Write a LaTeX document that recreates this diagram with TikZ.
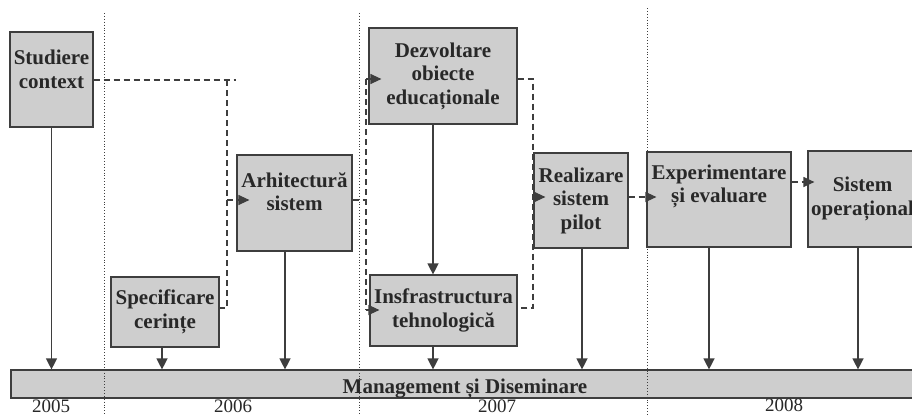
\documentclass[tikz,border=0pt]{standalone}
\usepackage{fontspec}
\setmainfont{Liberation Serif}
\usetikzlibrary{arrows.meta,calc}
\definecolor{boxfill}{RGB}{206,206,206}
\definecolor{ink}{RGB}{62,62,62}
\definecolor{txtc}{RGB}{40,40,40}
\begin{document}
\begin{tikzpicture}[x=1pt,y=-1pt,
  box/.style={draw=ink, line width=1.2pt, fill=boxfill, inner sep=0pt},
  txt/.style={align=center, text=txtc, inner sep=0pt, font=\fontsize{21}{23.5}\selectfont\bfseries},
  year/.style={text=txtc, inner sep=0pt, anchor=base, font=\fontsize{19}{22}\selectfont},
  down/.style={draw=ink, line width=1.3pt, -{Triangle[length=11pt,width=11pt]}},
  dconn/.style={draw=ink, line width=1.2pt, dash pattern=on 6pt off 4pt},
  darr/.style={dconn, -{Triangle[length=11pt,width=10pt]}},
  guide/.style={draw=ink, line width=0.9pt, dotted}
]
\clip (0,0) rectangle (912,416);
\fill[white] (0,0) rectangle (912,416);

% bar
\node[box, minimum width=919pt, minimum height=28pt] (bar) at (470.5,384) {};

% dotted year separators
\coordinate (g1a) at (104,13); \coordinate (g1b) at (104,416);
\coordinate (g2a) at (359,13); \coordinate (g2b) at (359,416);
\coordinate (g3a) at (647,8);  \coordinate (g3b) at (647,416);
\draw[guide] (g1a) -- (g1b);
\draw[guide] (g2a) -- (g2b);
\draw[guide] (g3a) -- (g3b);

% boxes
\node[box, minimum width=83pt,  minimum height=95pt] (stud) at (51.5,79.5) {};
\node[box, minimum width=108pt, minimum height=70pt] (spec) at (165,312) {};
\node[box, minimum width=115pt, minimum height=96pt] (arch) at (294.5,203) {};
\node[box, minimum width=148pt, minimum height=96pt] (dezv) at (443,76) {};
\node[box, minimum width=147pt, minimum height=71pt] (infr) at (443.5,310.5) {};
\node[box, minimum width=94pt,  minimum height=95pt] (real) at (581,200.5) {};
\node[box, minimum width=144pt, minimum height=95pt] (expe) at (719,199.5) {};
\node[box, minimum width=110pt, minimum height=96pt] (sist) at (863,199) {};

% texts
\node[txt, yshift=10pt] (tstud) at (stud) {Studiere\\context};
\node[txt] (tspec) at (spec) {Specificare\\cerințe};
\node[txt, yshift=11.5pt] (tarch) at (arch) {Arhitectură\\sistem};
\node[txt] (tdezv) at (dezv) {Dezvoltare\\obiecte\\educaționale};
\node[txt] (tinfr) at (infr) {Insfrastructura\\tehnologică};
\node[txt] (treal) at (real) {Realizare\\sistem\\pilot};
\node[txt, yshift=13pt] (texpe) at (expe) {Experimentare\\și evaluare};
\node[txt] (tsist) at ([xshift=-0.5pt]sist) {Sistem\\operațional};
\node[txt, anchor=base] (tbar) at (465,393) {Management și Diseminare};

% years
\node[year] (y5) at (51,412) {2005};
\node[year] (y6) at (233,412) {2006};
\node[year] (y7) at (497,412) {2007};
\node[year] (y8) at (784,411) {2008};

% solid arrows to the bar
\draw[down] (stud.south) -- (stud.south |- bar.north);
\draw[down] ([xshift=-3pt]spec.south) -- ([xshift=-3pt]spec.south |- bar.north);
\draw[down] ([xshift=-9.5pt]arch.south) -- ([xshift=-9.5pt]arch.south |- bar.north);
\draw[down] ([xshift=-10pt]dezv.south) -- ([xshift=-10pt]dezv.south |- infr.north);
\draw[down] ([xshift=-10.5pt]infr.south) -- ([xshift=-10.5pt]infr.south |- bar.north);
\draw[down] ([xshift=1pt]real.south) -- ([xshift=1pt]real.south |- bar.north);
\draw[down] ([xshift=-10pt]expe.south) -- ([xshift=-10pt]expe.south |- bar.north);
\draw[down] ([xshift=-5pt]sist.south) -- ([xshift=-5pt]sist.south |- bar.north);

% dashed dependencies
\coordinate (c1) at (227,0);
\coordinate (c2) at (366,0);
\coordinate (c3) at (533,0);

\draw[dconn] ([yshift=-0.5pt]stud.east) -- ([yshift=-0.5pt]stud.east -| arch.west);
\draw[dconn] ([yshift=-0.5pt]stud.east -| c1) -- ([yshift=4pt]spec.east -| c1) -- ([yshift=4pt]spec.east);
\draw[darr, shorten >=-13pt] ([yshift=3pt]arch.west -| c1) -- ([yshift=3pt]arch.west);

\draw[dconn] ([yshift=3pt]arch.east) -- ([yshift=3pt]arch.east -| c2);
\draw[dconn] ([yshift=-3pt]dezv.west -| c2) -- ([yshift=0.5pt]infr.west -| c2);
\draw[darr, shorten >=-13pt] ([yshift=-3pt]dezv.west -| c2) -- ([yshift=-3pt]dezv.west);
\draw[darr, shorten >=-10pt] ([yshift=0.5pt]infr.west -| c2) -- ([yshift=0.5pt]infr.west);

\draw[dconn] ([yshift=-3pt]dezv.east) -- ([yshift=-3pt]dezv.east -| c3) -- ([yshift=2.5pt]infr.east -| c3) -- ([yshift=2.5pt]infr.east);
\draw[darr, shorten >=-12pt] ([yshift=3.5pt]real.west -| c3) -- ([yshift=3.5pt]real.west);

\draw[darr, shorten >=-10pt] ([yshift=3.5pt]real.east) -- ([yshift=3.5pt]real.east -| expe.west);
\draw[darr, shorten >=-7pt] ([yshift=17.5pt]expe.east) -- ([yshift=17.5pt]expe.east -| sist.west);
\end{tikzpicture}
\end{document}
